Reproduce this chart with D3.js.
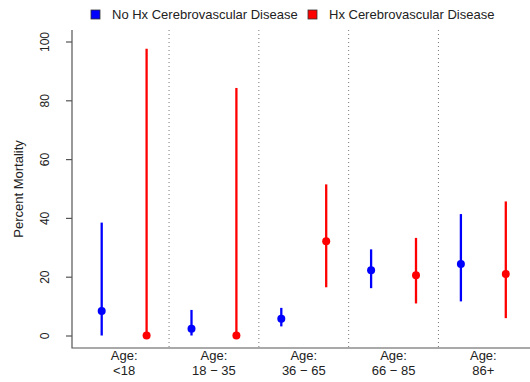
<!DOCTYPE html>
<html lang="en">
<head>
  <meta charset="UTF-8">
  <title>Percent Mortality by Age</title>
  <script src="https://d3js.org/d3.v7.min.js"></script>
  <style>
    body { margin: 0; background: #fff; }
    text { font-family: "Liberation Sans", Arial, sans-serif; fill: #222; }
    .tick text { font-size: 12px; }
  </style>
</head>
<body>
  <script>
    const ageGroups = ["<18", "18 \u2212 35", "36 \u2212 65", "66 \u2212 85", "86+"];
    const seriesNames = ["No Hx Cerebrovascular Disease", "Hx Cerebrovascular Disease"];
    const seriesColors = ["#0000FF", "#FF0000"];

    const noHxEst = [8.3, 2.3, 5.7, 22.2, 24.3];
    const noHxLo  = [0, 0, 3.1, 16.1, 11.6];
    const noHxHi  = [38.4, 8.7, 9.4, 29.3, 41.3];

    const hxEst = [0, 0, 32.1, 20.5, 20.9];
    const hxLo  = [0, 0, 16.4, 10.9, 5.9];
    const hxHi  = [97.5, 84.2, 51.4, 33.2, 45.6];

    const yTicks = [0, 20, 40, 60, 80, 100];

    const width = 530, height = 382;
    const plotLeft = 72, plotTop = 30, plotBottom = 348;

    const svg = d3.select("body").append("svg")
      .attr("width", width).attr("height", height);

    // position 1..10: two series per age group
    const x = d3.scaleLinear().domain([1, 10]).range([101.7, 505.8]);
    const y = d3.scaleLinear().domain([0, 100]).range([335.5, 41.5]);

    const points = [];
    ageGroups.forEach((g, i) => {
      points.push({ pos: 2 * i + 1, est: noHxEst[i], lo: noHxLo[i], hi: noHxHi[i], s: 0 });
      points.push({ pos: 2 * i + 2, est: hxEst[i], lo: hxLo[i], hi: hxHi[i], s: 1 });
    });

    // dotted group separators
    svg.append("g")
      .selectAll("line")
      .data(ageGroups.slice(1))
      .join("line")
      .attr("x1", (d, i) => x(2 * (i + 1) + 0.5))
      .attr("x2", (d, i) => x(2 * (i + 1) + 0.5))
      .attr("y1", plotTop)
      .attr("y2", plotBottom)
      .attr("stroke", "#777")
      .attr("stroke-width", 1)
      .attr("stroke-dasharray", "1,3");

    // L-shaped box
    svg.append("path")
      .attr("d", `M${plotLeft},${plotTop}V${plotBottom}H${width}`)
      .attr("fill", "none")
      .attr("stroke", "#555")
      .attr("stroke-width", 1.2);

    // y axis ticks
    const yAxis = svg.append("g")
      .attr("transform", `translate(${plotLeft},0)`)
      .call(d3.axisLeft(y).tickValues(yTicks).tickSize(6).tickPadding(0));
    yAxis.select(".domain").remove();
    yAxis.selectAll(".tick line").attr("stroke", "#555").attr("stroke-width", 1.2);
    yAxis.selectAll(".tick text")
      .attr("x", 0).attr("dy", 0)
      .attr("transform", "translate(-23,0) rotate(-90)")
      .attr("text-anchor", "middle");

    svg.append("text")
      .attr("transform", `translate(23,${(plotTop + plotBottom) / 2}) rotate(-90)`)
      .attr("text-anchor", "middle")
      .style("font-size", "13px")
      .text("Percent Mortality");

    // x labels
    const xl = svg.append("g").selectAll("text")
      .data(ageGroups)
      .join("text")
      .attr("text-anchor", "middle")
      .style("font-size", "13px")
      .attr("x", (d, i) => x(2 * i + 1.5))
      .attr("y", 360);
    xl.append("tspan").text("Age:");
    xl.append("tspan")
      .attr("x", (d, i) => x(2 * i + 1.5))
      .attr("dy", 15)
      .text(d => d);

    // error bars
    svg.append("g").selectAll("line")
      .data(points)
      .join("line")
      .attr("x1", d => x(d.pos)).attr("x2", d => x(d.pos))
      .attr("y1", d => y(d.lo)).attr("y2", d => y(d.hi))
      .attr("stroke", d => seriesColors[d.s])
      .attr("stroke-width", 2.3);

    svg.append("g").selectAll("circle")
      .data(points)
      .join("circle")
      .attr("cx", d => x(d.pos))
      .attr("cy", d => y(d.est))
      .attr("r", 4)
      .attr("fill", d => seriesColors[d.s]);

    // legend
    const legendX = [91, 308];
    const leg = svg.append("g").selectAll("g")
      .data(seriesNames)
      .join("g")
      .attr("transform", (d, i) => `translate(${legendX[i]},10)`);
    leg.append("rect")
      .attr("width", 9).attr("height", 9)
      .attr("fill", (d, i) => seriesColors[i])
      .attr("stroke", "#333").attr("stroke-width", 0.8);
    leg.append("text")
      .attr("x", 21).attr("y", 9)
      .style("font-size", "13px")
      .text(d => d);
  </script>
</body>
</html>
